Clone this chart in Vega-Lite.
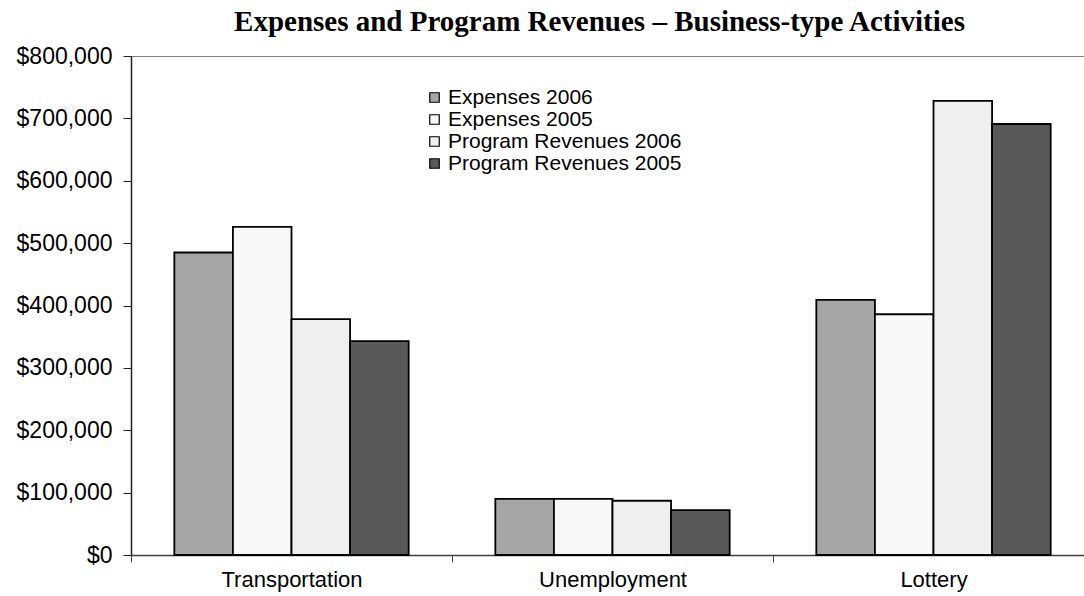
{
  "$schema": "https://vega.github.io/schema/vega-lite/v6.json",
  "autosize": {"type": "none"},
  "padding": {"left": 131, "top": 56, "right": 0, "bottom": 41},
  "width": 963,
  "height": 499,
  "background": "white",
  "title": {
    "text": "Expenses and Program Revenues – Business-type Activities",
    "font": "Liberation Serif",
    "fontSize": 29,
    "fontWeight": "bold",
    "color": "black",
    "anchor": "middle",
    "dx": -13,
    "offset": 8
  },
  "config": {
    "view": {"stroke": "#808080", "strokeWidth": 1},
    "axis": {"labelFont": "Liberation Sans", "labelColor": "black", "grid": false}
  },
  "data": {
    "values": [
      {"activity": "Transportation", "series": "Expenses 2006", "value": 485000},
      {"activity": "Transportation", "series": "Expenses 2005", "value": 526000},
      {"activity": "Transportation", "series": "Program Revenues 2006", "value": 378000},
      {"activity": "Transportation", "series": "Program Revenues 2005", "value": 343000},
      {"activity": "Unemployment", "series": "Expenses 2006", "value": 90000},
      {"activity": "Unemployment", "series": "Expenses 2005", "value": 90000},
      {"activity": "Unemployment", "series": "Program Revenues 2006", "value": 87000},
      {"activity": "Unemployment", "series": "Program Revenues 2005", "value": 72000},
      {"activity": "Lottery", "series": "Expenses 2006", "value": 409000},
      {"activity": "Lottery", "series": "Expenses 2005", "value": 386000},
      {"activity": "Lottery", "series": "Program Revenues 2006", "value": 728000},
      {"activity": "Lottery", "series": "Program Revenues 2005", "value": 691000}
    ]
  },
  "mark": {"type": "bar", "stroke": "black", "strokeWidth": 1.8},
  "encoding": {
    "x": {
      "field": "activity",
      "type": "nominal",
      "sort": ["Transportation", "Unemployment", "Lottery"],
      "scale": {"paddingInner": 0.27, "paddingOuter": 0.135},
      "axis": {
        "title": null,
        "labelAngle": 0,
        "labelFontSize": 22,
        "labelPadding": 7,
        "tickOffset": -160.5,
        "labelOffset": 160.5,
        "tickSize": 7,
        "tickColor": "#404040",
        "domainColor": "#404040",
        "domainWidth": 1.5
      }
    },
    "xOffset": {
      "field": "series",
      "type": "nominal",
      "sort": ["Expenses 2006", "Expenses 2005", "Program Revenues 2006", "Program Revenues 2005"],
      "scale": {"paddingInner": 0, "paddingOuter": 0}
    },
    "y": {
      "field": "value",
      "type": "quantitative",
      "scale": {"domain": [0, 800000], "nice": false},
      "axis": {
        "title": null,
        "values": [0, 100000, 200000, 300000, 400000, 500000, 600000, 700000, 800000],
        "format": "$,.0f",
        "labelFontSize": 23,
        "labelPadding": 11,
        "tickSize": 8,
        "tickColor": "#222",
        "domainColor": "#222",
        "domainWidth": 1.5
      }
    },
    "color": {
      "field": "series",
      "type": "nominal",
      "sort": ["Expenses 2006", "Expenses 2005", "Program Revenues 2006", "Program Revenues 2005"],
      "scale": {
        "domain": ["Expenses 2006", "Expenses 2005", "Program Revenues 2006", "Program Revenues 2005"],
        "range": ["#a6a6a6", "#f8f8f8", "#efefef", "#595959"]
      },
      "legend": {
        "title": null,
        "orient": "none",
        "legendX": 293,
        "legendY": 31,
        "symbolType": "square",
        "symbolSize": 90,
        "symbolStrokeColor": "black",
        "symbolStrokeWidth": 1.2,
        "symbolOpacity": 1,
        "labelFont": "Liberation Sans",
        "labelFontSize": 21,
        "labelLimit": 400,
        "labelColor": "black",
        "rowPadding": 0,
        "labelOffset": 3
      }
    }
  }
}
